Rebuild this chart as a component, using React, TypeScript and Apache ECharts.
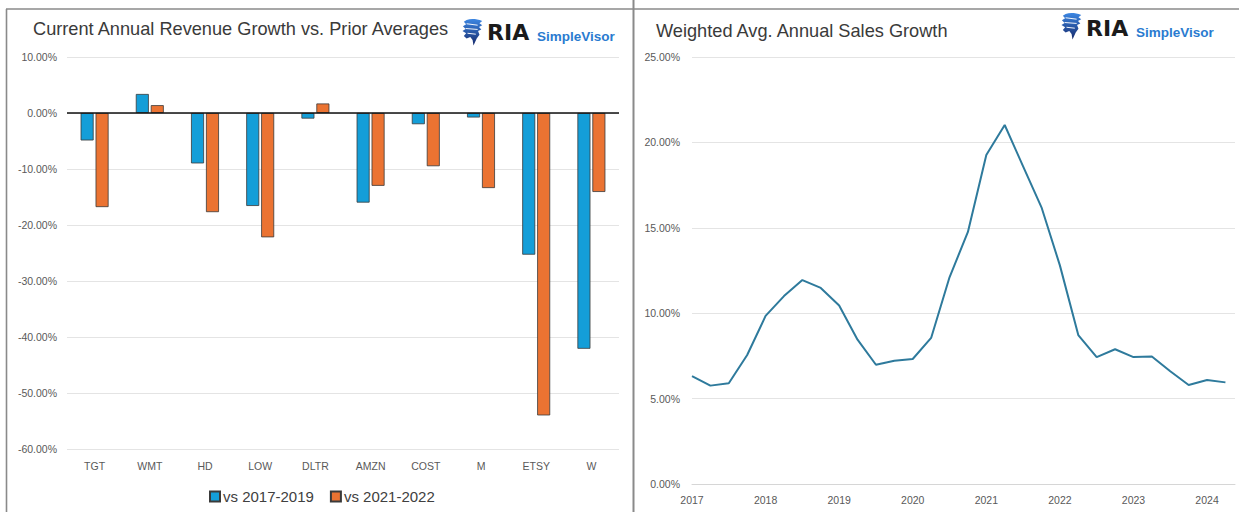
import React, { useEffect, useRef } from "react";
import * as echarts from "echarts";

// ---------- data ----------
const categories = ["TGT", "WMT", "HD", "LOW", "DLTR", "AMZN", "COST", "M", "ETSY", "W"];
const vs2017to2019 = [-4.9, 3.4, -9.0, -16.6, -1.0, -16.0, -2.0, -0.8, -25.3, -42.1];
const vs2021to2022 = [-16.8, 1.4, -17.7, -22.2, 1.7, -13.0, -9.5, -13.4, -54.0, -14.1];
const seriesNames = ["vs 2017-2019", "vs 2021-2022"];

const quarters = [
  2017.0, 2017.25, 2017.5, 2017.75,
  2018.0, 2018.25, 2018.5, 2018.75,
  2019.0, 2019.25, 2019.5, 2019.75,
  2020.0, 2020.25, 2020.5, 2020.75,
  2021.0, 2021.25, 2021.5, 2021.75,
  2022.0, 2022.25, 2022.5, 2022.75,
  2023.0, 2023.25, 2023.5, 2023.75,
  2024.0, 2024.25,
];
const salesGrowth = [
  6.32, 5.76, 5.9, 7.55,
  9.84, 11.0, 11.94, 11.48,
  10.45, 8.45, 6.98, 7.22,
  7.32, 8.55, 12.1, 14.76,
  19.26, 21.02, 18.6, 16.2,
  12.8, 8.72, 7.43, 7.89,
  7.43, 7.47, 6.6, 5.8,
  6.09, 5.95,
];
const yearLabels = ["2017", "2018", "2019", "2020", "2021", "2022", "2023", "2024"];

// ---------- styles ----------
const FONT = "'Liberation Sans', Arial, sans-serif";
const LABEL_COLOR = "#595959";
const GRID_COLOR = "#e4e4e4";
const FRAME_COLOR = "#8a8a8a";

const ICON_D =
  "M5 1 C10 -0.5 16 0 22 2 L19 4.5 L22 6.5 L18.5 8.5 L21 11 L17.5 12.5 L19 16.5 L16 20.5 L12.5 28 L11.5 22 L9 19 L5 20.5 L2 18 L4.5 15 L0.5 12.5 L4 10.5 L1 7.5 L4.5 5.5 L2 3 Z";
echarts.graphic.registerShape("riaIcon", echarts.graphic.extendPath(ICON_D, {}));

function logo(x: number, iconTop: number, textMid: number) {
  const stripe = (pts: number[][]) => ({
    type: "polyline",
    x: x,
    y: iconTop,
    scaleX: 0.92,
    scaleY: 0.95,
    shape: { points: pts },
    style: { stroke: "#ffffff", lineWidth: 1, fill: null },
  });
  return {
    type: "group",
    children: [
      {
        type: "riaIcon",
        x: x,
        y: iconTop,
        scaleX: 0.92,
        scaleY: 0.95,
        style: {
          fill: new echarts.graphic.LinearGradient(0, 0, 0, 1, [
            { offset: 0, color: "#3c86e2" },
            { offset: 1, color: "#16296a" },
          ]),
        },
      },
      stripe([[5, 5], [17, 6.5]]),
      stripe([[4, 10], [17, 11]]),
      stripe([[6, 15], [15, 16]]),
      {
        type: "text",
        x: x + 25,
        y: textMid,
        style: {
          text: "RIA",
          fontSize: 22,
          fontWeight: 600,
          fontFamily: "'DejaVu Sans', sans-serif",
          fill: "#1b1b1b",
          verticalAlign: "middle",
        },
      },
      {
        type: "text",
        x: x + 75,
        y: textMid + 4,
        style: {
          text: "SimpleVisor",
          fontSize: 13.5,
          fontWeight: "bold",
          fontFamily: FONT,
          fill: "#2a7bd0",
          verticalAlign: "middle",
        },
      },
    ],
  };
}

function buildOption() {
  const barItem = (color: string) => ({
    color,
    borderColor: "#3a3a3a",
    borderWidth: 0.8,
  });
  return {
    animation: false,
    backgroundColor: "#ffffff",
    textStyle: { fontFamily: FONT },
    grid: [
      { left: 67, right: 620, top: 57, bottom: 63 },
      { left: 692, right: 4, top: 57, bottom: 28 },
    ],
    legend: {
      data: seriesNames,
      left: 204,
      top: 484,
      icon: "rect",
      itemWidth: 10,
      itemHeight: 10,
      itemGap: 16,
      textStyle: { fontSize: 15, color: "#404040", fontFamily: FONT, padding: [0, 0, 0, -2] },
    },
    xAxis: [
      {
        gridIndex: 0,
        type: "category",
        data: categories,
        axisLine: { show: false, onZero: false },
        axisTick: { show: false },
        axisLabel: { color: LABEL_COLOR, fontSize: 10.5, margin: 11, fontFamily: FONT },
      },
      {
        gridIndex: 1,
        type: "value",
        min: 2017,
        max: 2024.38,
        interval: 1,
        axisLine: { show: true, lineStyle: { color: "#d6d6d6", width: 1 } },
        axisTick: { show: false },
        splitLine: { show: false },
        axisLabel: {
          color: LABEL_COLOR,
          fontSize: 10.5,
          margin: 10,
          fontFamily: FONT,
          showMaxLabel: false,
          formatter: (v: number) => (yearLabels.includes(String(v)) ? String(v) : ""),
        },
      },
    ],
    yAxis: [
      {
        gridIndex: 0,
        type: "value",
        min: -60,
        max: 10,
        interval: 10,
        axisLine: { show: false },
        axisTick: { show: false },
        splitLine: { lineStyle: { color: GRID_COLOR, width: 1 } },
        axisLabel: {
          color: LABEL_COLOR,
          fontSize: 10.5,
          margin: 10,
          fontFamily: FONT,
          formatter: (v: number) => v.toFixed(2) + "%",
        },
      },
      {
        gridIndex: 1,
        type: "value",
        min: 0,
        max: 25,
        interval: 5,
        axisLine: { show: false },
        axisTick: { show: false },
        splitLine: { lineStyle: { color: GRID_COLOR, width: 1 } },
        axisLabel: {
          color: LABEL_COLOR,
          fontSize: 10.5,
          margin: 12,
          fontFamily: FONT,
          formatter: (v: number) => v.toFixed(2) + "%",
        },
      },
    ],
    series: [
      {
        name: seriesNames[0],
        type: "bar",
        xAxisIndex: 0,
        yAxisIndex: 0,
        data: vs2017to2019,
        barWidth: 13,
        barGap: "15%",
        itemStyle: barItem("#149ed8"),
        markLine: {
          silent: true,
          symbol: "none",
          label: { show: false },
          lineStyle: { color: "#111111", width: 1.5, type: "solid" },
          data: [{ yAxis: 0 }],
          z: 5,
        },
      },
      {
        name: seriesNames[1],
        type: "bar",
        xAxisIndex: 0,
        yAxisIndex: 0,
        data: vs2021to2022,
        barWidth: 13,
        barGap: "15%",
        itemStyle: barItem("#eb7332"),
      },
      {
        name: "Weighted Avg. Annual Sales Growth",
        type: "line",
        xAxisIndex: 1,
        yAxisIndex: 1,
        data: quarters.map((q, i) => [q, salesGrowth[i]]),
        showSymbol: false,
        lineStyle: { color: "#2e7a9c", width: 2 },
        itemStyle: { color: "#2e7a9c" },
      },
    ],
    graphic: [
      {
        type: "line",
        shape: { x1: 6, y1: 9, x2: 1239, y2: 9 },
        style: { stroke: FRAME_COLOR, lineWidth: 1.6 },
      },
      {
        type: "line",
        shape: { x1: 6.5, y1: 9, x2: 6.5, y2: 512 },
        style: { stroke: FRAME_COLOR, lineWidth: 1.6 },
      },
      {
        type: "line",
        shape: { x1: 633.5, y1: 0, x2: 633.5, y2: 512 },
        style: { stroke: FRAME_COLOR, lineWidth: 2 },
      },
      {
        type: "text",
        x: 33,
        y: 29,
        style: {
          text: "Current Annual Revenue Growth vs. Prior Averages",
          fontSize: 18.2,
          fontFamily: FONT,
          fill: "#3a3a3a",
          verticalAlign: "middle",
        },
      },
      {
        type: "text",
        x: 656,
        y: 31,
        style: {
          text: "Weighted Avg. Annual Sales Growth",
          fontSize: 18.2,
          fontFamily: FONT,
          fill: "#3a3a3a",
          verticalAlign: "middle",
        },
      },
      logo(462, 19, 32.5),
      logo(1061, 13, 28),
    ],
  };
}

export default function App() {
  const ref = useRef<HTMLDivElement>(null);
  useEffect(() => {
    document.body.style.margin = "0";
    const chart = echarts.init(ref.current as HTMLDivElement, null, { renderer: "svg" });
    chart.setOption(buildOption() as any);
    return () => chart.dispose();
  }, []);
  return (
    <div
      ref={ref}
      style={{ position: "absolute", left: 0, top: 0, width: 1239, height: 512, background: "#ffffff" }}
    />
  );
}
